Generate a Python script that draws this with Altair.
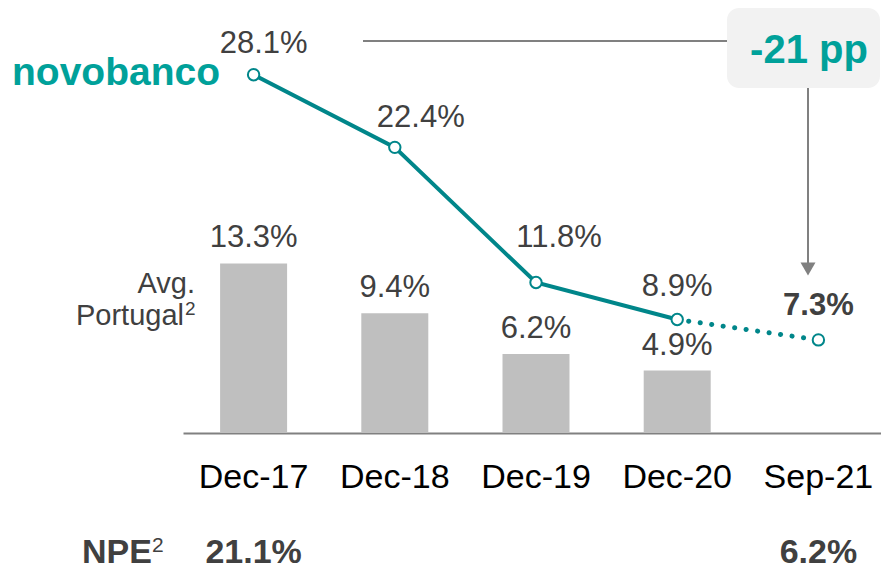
import altair as alt
import pandas as pd

# ---- data ----
categories = ["Dec-17", "Dec-18", "Dec-19", "Dec-20", "Sep-21"]
novobanco = [28.1, 22.4, 11.8, 8.9, 7.3]
avg_portugal = [13.3, 9.4, 6.2, 4.9, None]
npe_labels = ["21.1%", "", "", "", "6.2%"]

# ---- styles ----
TEAL_LINE = "#00868A"
TEAL_BRAND = "#00A19A"
GREY_TEXT = "#404040"
BAR_GREY = "#BFBFBF"
RULE_GREY = "#808080"
FONT = "Liberation Sans"

line_label_dx = [10, 26, 23, 0, 0]
line_label_dy = [-22, -20, -36, -24, -25]
line_label_bold = [False, False, False, False, True]

df = pd.DataFrame({"cat": categories, "nb": novobanco, "avg": avg_portugal, "npe": npe_labels})
one = pd.DataFrame({"a": [0]})

yscale = alt.Scale(domain=[0, 33.33], nice=False, zero=True)
x = alt.X(
    "cat:N",
    sort=categories,
    scale=alt.Scale(paddingInner=0, paddingOuter=0),
    axis=alt.Axis(
        title=None, labelAngle=0, ticks=False, domainColor=RULE_GREY, domainWidth=2,
        labelFontSize=34, labelColor="#000000", labelPadding=27, labelFont=FONT, grid=False,
    ),
)

bars = (
    alt.Chart(df)
    .transform_filter("isValid(datum.avg)")
    .mark_bar(size=67, color=BAR_GREY)
    .encode(x=x, y=alt.Y("avg:Q", scale=yscale, axis=None))
)

bar_labels = (
    alt.Chart(df)
    .transform_filter("isValid(datum.avg)")
    .transform_calculate(lbl="format(datum.avg, '.1f') + '%'")
    .mark_text(font=FONT, fontSize=31, color=GREY_TEXT, baseline="alphabetic", dy=-16)
    .encode(x=x, y=alt.Y("avg:Q", scale=yscale, axis=None), text="lbl:N")
)

solid = (
    alt.Chart(df.iloc[:4])
    .mark_line(color=TEAL_LINE, strokeWidth=4)
    .encode(x=x, y=alt.Y("nb:Q", scale=yscale, axis=None))
)
dotted = (
    alt.Chart(df.iloc[3:])
    .mark_line(color=TEAL_LINE, strokeWidth=5, strokeDash=[0.1, 11.5], strokeCap="round")
    .encode(x=x, y=alt.Y("nb:Q", scale=yscale, axis=None))
)
points = (
    alt.Chart(df)
    .mark_circle(fill="white", stroke=TEAL_LINE, strokeWidth=2, size=130, opacity=1)
    .encode(x=x, y=alt.Y("nb:Q", scale=yscale, axis=None))
)

line_labels = []
for i in range(len(categories)):
    line_labels.append(
        alt.Chart(df.iloc[[i]])
        .transform_calculate(lbl="format(datum.nb, '.1f') + '%'")
        .mark_text(
            font=FONT, fontSize=31, color=GREY_TEXT, baseline="alphabetic",
            dx=line_label_dx[i], dy=line_label_dy[i],
            fontWeight="bold" if line_label_bold[i] else "normal",
        )
        .encode(x=x, y=alt.Y("nb:Q", scale=yscale, axis=None), text="lbl:N")
    )

NPE_Y = 555

npe_values = (
    alt.Chart(df)
    .transform_filter("datum.npe != ''")
    .mark_text(font=FONT, fontSize=34, fontWeight="bold", color=GREY_TEXT, baseline="alphabetic")
    .encode(x=x, y=alt.value(NPE_Y), text="npe:N")
)

npe_title = alt.Chart(one).mark_text(
    font=FONT, fontSize=34, fontWeight="bold", color=GREY_TEXT, baseline="alphabetic", align="left"
).encode(x=alt.value(-101), y=alt.value(NPE_Y), text=alt.value("NPE"))
npe_sup = alt.Chart(one).mark_text(
    font=FONT, fontSize=21, color=GREY_TEXT, baseline="alphabetic", align="left"
).encode(x=alt.value(-31), y=alt.value(NPE_Y - 11), text=alt.value("2"))

logo = alt.Chart(one).mark_text(
    font=FONT, fontSize=39, fontWeight="bold", color=TEAL_BRAND, baseline="alphabetic", align="left"
).encode(x=alt.value(-171), y=alt.value(77), text=alt.value("novobanco"))

avg1 = alt.Chart(one).mark_text(
    font=FONT, fontSize=29, color=GREY_TEXT, baseline="alphabetic", align="right"
).encode(x=alt.value(12), y=alt.value(285), text=alt.value("Avg."))
avg2 = alt.Chart(one).mark_text(
    font=FONT, fontSize=29, color=GREY_TEXT, baseline="alphabetic", align="right"
).encode(x=alt.value(1), y=alt.value(317), text=alt.value("Portugal"))
avg_sup = alt.Chart(one).mark_text(
    font=FONT, fontSize=19, color=GREY_TEXT, baseline="alphabetic", align="left"
).encode(x=alt.value(2), y=alt.value(307), text=alt.value("2"))

hline = alt.Chart(one).mark_rule(color=RULE_GREY, strokeWidth=2).encode(
    x=alt.value(180), x2=alt.value(544), y=alt.value(33)
)
vline = alt.Chart(one).mark_rule(color=RULE_GREY, strokeWidth=2).encode(
    x=alt.value(625), y=alt.value(80), y2=alt.value(256)
)
arrow = alt.Chart(one).mark_point(
    shape="M-1,-0.87L1,-0.87L0,0.87Z", filled=True, color=RULE_GREY, size=225, opacity=1
).encode(x=alt.value(625), y=alt.value(261))

box = alt.Chart(one).mark_rect(color="#F2F2F2", cornerRadius=12).encode(
    x=alt.value(544), x2=alt.value(697), y=alt.value(0), y2=alt.value(80)
)
box_text = alt.Chart(one).mark_text(
    font=FONT, fontSize=40, fontWeight="bold", color=TEAL_BRAND, baseline="alphabetic", align="center"
).encode(x=alt.value(626), y=alt.value(55), text=alt.value("-21 pp"))

chart = (
    alt.layer(
        bars, bar_labels, hline, vline, arrow, box, box_text,
        solid, dotted, points, *line_labels,
        npe_values, npe_title, npe_sup, logo, avg1, avg2, avg_sup,
    )
    .properties(
        width=706, height=425,
        autosize=alt.AutoSizeParams(type="none"),
        padding={"left": 175, "top": 0, "right": -8, "bottom": 138},
        background="white",
    )
    .configure_view(strokeWidth=0, stroke=None)
)

chart.save("out.html", embed_options={"renderer": "svg", "actions": False})
